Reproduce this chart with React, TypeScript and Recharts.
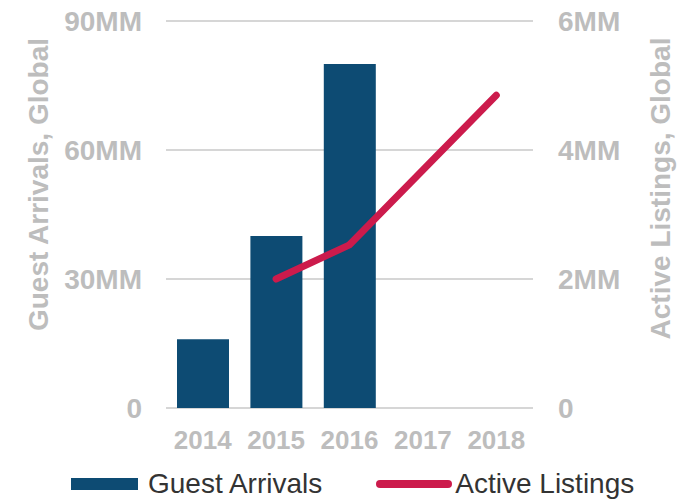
import {
  Bar,
  CartesianGrid,
  ComposedChart,
  Label,
  Legend,
  Line,
  XAxis,
  YAxis,
} from "recharts";

const years = ["2014", "2015", "2016", "2017", "2018"];
// guest arrivals, millions
const guestArrivals = [16, 40, 80, null, null];
// active listings, millions
const activeListings = [null, 2.0, 2.53, 3.69, 4.85];
const leftTicks = [0, 30, 60, 90];
const rightTicks = [0, 2, 4, 6];

const data = years.map((year, i) => ({
  year,
  arrivals: guestArrivals[i],
  listings: activeListings[i],
}));

const FONT = '"Liberation Sans", Arial, Helvetica, sans-serif';
const GREY = "#bdbdbd";
const BLUE = "#0d4b73";
const RED = "#cc1b4c";

const fmt = (v: number) => (v === 0 ? "0" : `${v}MM`);

const LeftTick = (props: any) => {
  const { x, y, payload } = props;
  return (
    <text x={x - 24} y={y} dy="0.36em" textAnchor="end" fill={GREY}
      fontFamily={FONT} fontWeight="bold" fontSize={28}>
      {fmt(payload.value)}
    </text>
  );
};

const RightTick = (props: any) => {
  const { x, y, payload } = props;
  return (
    <text x={x + 25} y={y} dy="0.36em" textAnchor="start" fill={GREY}
      fontFamily={FONT} fontWeight="bold" fontSize={28}>
      {fmt(payload.value)}
    </text>
  );
};

const YearTick = (props: any) => {
  const { x, y, payload } = props;
  return (
    <text x={x} y={y + 41} textAnchor="middle" fill={GREY}
      fontFamily={FONT} fontWeight="bold" fontSize={26}>
      {payload.value}
    </text>
  );
};

const axisTitle = (text: string, dx: number, dy: number) => (props: any) => {
  const vb = props.viewBox;
  const cx = vb.x + dx;
  const cy = vb.y + vb.height / 2 + dy;
  return (
    <text x={0} y={0} transform={`translate(${cx}, ${cy}) rotate(-90)`}
      textAnchor="middle" fill={GREY} fontFamily={FONT}
      fontWeight="bold" fontSize={28}>
      {text}
    </text>
  );
};

const LegendContent = () => (
  <div style={{ display: "flex", alignItems: "center", fontFamily: FONT,
    fontSize: 28, color: "#333", paddingLeft: 71, lineHeight: "32px" }}>
    <span style={{ display: "inline-block", width: 67, height: 12,
      background: BLUE, marginRight: 10 }} />
    <span>Guest Arrivals</span>
    <svg width={76} height={12} style={{ marginLeft: 54, marginRight: 3 }}>
      <line x1={4} y1={6} x2={72} y2={6} stroke={RED} strokeWidth={8}
        strokeLinecap="round" />
    </svg>
    <span>Active Listings</span>
  </div>
);

export default function App() {
  return (
    <div style={{ position: "absolute", left: 0, top: 0 }}>
      <ComposedChart width={689} height={500} data={data}
        margin={{ top: 21, right: 0, bottom: 0, left: 0 }}>
        <CartesianGrid yAxisId="left" vertical={false} stroke="#d6d6d6"
          strokeWidth={2} />
        <XAxis dataKey="year" height={92} axisLine={false} tickLine={false}
          tickSize={0} tickMargin={0} tick={<YearTick />} interval={0} />
        <YAxis yAxisId="left" width={166} domain={[0, 90]} ticks={leftTicks}
          axisLine={false} tickLine={false} tickSize={0} tickMargin={0}
          tick={<LeftTick />}>
          <Label content={axisTitle("Guest Arrivals, Global", 48, -30)} />
        </YAxis>
        <YAxis yAxisId="right" orientation="right" width={156} domain={[0, 6]}
          ticks={rightTicks} axisLine={false} tickLine={false} tickSize={0}
          tickMargin={0} tick={<RightTick />}>
          <Label content={axisTitle("Active Listings, Global", 137, -26)} />
        </YAxis>
        <Bar yAxisId="left" dataKey="arrivals" name="Guest Arrivals"
          fill={BLUE} barSize={52} isAnimationActive={false} />
        <Line yAxisId="right" dataKey="listings" name="Active Listings"
          type="linear" stroke={RED} strokeWidth={7} strokeLinecap="round"
          strokeLinejoin="round" dot={false} activeDot={false}
          isAnimationActive={false} />
        <Legend verticalAlign="middle" content={<LegendContent />}
          wrapperStyle={{ top: 468, left: 0, width: 689 }} />
      </ComposedChart>
    </div>
  );
}
